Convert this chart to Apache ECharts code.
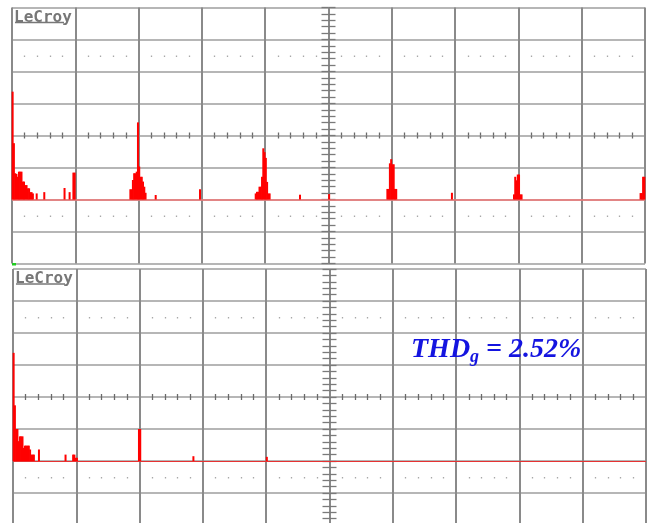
<!DOCTYPE html>
<html>
<head>
<meta charset="utf-8">
<title>LeCroy spectrum</title>
<script src="https://cdn.jsdelivr.net/npm/echarts@6/dist/echarts.min.js"></script>
<style>
  html, body { margin: 0; padding: 0; background: #ffffff; }
  #chart { width: 652px; height: 523px; }
</style>
</head>
<body>
<div id="chart"></div>
<script>
// Horizontal scale: 10 divisions, 50 spectrum bins per division.
const X_MIN = 0;
const X_MAX = 500;
const X_DIV = 50;
// Vertical scale in divisions; trace baseline sits at 0.
const Y_MIN = -2;
const Y_MAX = 6;
const Y_DIV = 1;

// Upper screen: spectrum before filtering (bin index, level in divisions)
const topBins = [
  0, 1, 2, 3, 4, 5, 6, 7, 8, 9, 10, 11, 12, 13, 14, 15, 16, 19, 25, 41, 45, 48, 49,
  93, 94, 95, 96, 97, 98, 99, 100, 101, 102, 103, 104, 105, 113, 148,
  192, 193, 194, 195, 196, 197, 198, 199, 200, 201, 202, 203, 227, 250,
  296, 297, 298, 299, 300, 301, 302, 303, 347,
  396, 397, 398, 399, 400, 401, 402,
  496, 497, 498, 499
];
const topLevels = [
  3.37, 1.76, 0.82, 0.80, 0.71, 0.87, 0.87, 0.87, 0.56, 0.56, 0.45, 0.45, 0.35, 0.35, 0.23, 0.23, 0.19, 0.19, 0.23, 0.36, 0.23, 0.84, 0.84,
  0.32, 0.32, 0.61, 0.82, 0.82, 0.87, 2.41, 1.03, 0.71, 0.71, 0.56, 0.40, 0.21, 0.14, 0.32,
  0.19, 0.24, 0.24, 0.40, 0.40, 0.71, 1.60, 1.48, 1.30, 0.55, 0.19, 0.19, 0.15, 0.17,
  0.33, 0.33, 1.13, 1.26, 1.10, 1.10, 0.33, 0.33, 0.21,
  0.16, 0.71, 0.60, 0.78, 0.78, 0.16, 0.16,
  0.20, 0.20, 0.71, 0.71
];

// Lower screen: spectrum after filtering
const bottomBins = [
  0, 1, 2, 3, 4, 5, 6, 7, 8, 9, 10, 11, 12, 13, 14, 15, 16, 20, 41, 47, 48, 49, 50,
  99, 100, 142, 200
];
const bottomLevels = [
  3.38, 1.74, 1.00, 1.00, 0.62, 0.77, 0.77, 0.77, 0.41, 0.48, 0.48, 0.48, 0.48, 0.36, 0.20, 0.20, 0.20, 0.36, 0.20, 0.20, 0.20, 0.10, 0.10,
  1.00, 1.00, 0.15, 0.13
];

const thdLabel = ['THD', 'g', ' = 2.52%'];

const screens = [
  { left: 12, top: 7.5, width: 633, height: 256, bins: topBins, levels: topLevels, base: '#f07474', baseWidth: 1.6 },
  { left: 13, top: 269, width: 633, height: 256, bins: bottomBins, levels: bottomLevels, base: '#e63232', baseWidth: 1.2 }
];

const grid = [];
const xAxis = [];
const yAxis = [];
const series = [];

const hidden = { show: false };

screens.forEach(function (s, g) {
  grid.push({ left: s.left, top: s.top, width: s.width, height: s.height, containLabel: false, outerBoundsMode: 'none' });
  const pxPerDiv = s.height / (Y_MAX - Y_MIN);
  const rowOffset = function (v) { return -(v - Y_MIN) * pxPerDiv; };
  const xBase = {
    gridIndex: g, type: 'value', min: X_MIN, max: X_MAX, interval: X_DIV, position: 'bottom',
    axisLine: { show: false, onZero: false }, axisLabel: hidden, splitLine: hidden, axisTick: { show: false }
  };
  // graticule verticals
  xAxis.push(Object.assign({}, xBase, {
    splitLine: { show: true, lineStyle: { color: '#8a8a8a', width: 2 } }
  }));
  // centre horizontal: sub-division ticks above and below
  [true, false].forEach(function (inside) {
    xAxis.push(Object.assign({}, xBase, {
      offset: rowOffset((Y_MIN + Y_MAX) / 2),
      axisTick: { show: false, inside: inside },
      minorTick: { show: true, splitNumber: 5, length: 3, lineStyle: { color: '#6a6a6a', width: 1.3 } }
    }));
  });
  // dotted rows
  [4.5, -0.5].forEach(function (v) {
    xAxis.push(Object.assign({}, xBase, {
      offset: rowOffset(v),
      axisTick: { show: false, inside: false },
      minorTick: { show: true, splitNumber: 5, length: 1.5, lineStyle: { color: '#a8a8a8', width: 1.3 } }
    }));
  });

  const yBase = {
    gridIndex: g, type: 'value', min: Y_MIN, max: Y_MAX, interval: Y_DIV, position: 'left',
    axisLine: { show: false, onZero: false }, axisLabel: hidden, splitLine: hidden, axisTick: { show: false }
  };
  // graticule horizontals
  yAxis.push(Object.assign({}, yBase, {
    splitLine: { show: true, lineStyle: { color: '#b6b6b6', width: 2 } }
  }));
  // centre vertical: sub-division ticks left and right
  [false, true].forEach(function (inside) {
    yAxis.push(Object.assign({}, yBase, {
      offset: -s.width / 2,
      axisTick: { show: true, inside: inside, length: 7, lineStyle: { color: '#7a7a7a', width: 1.3 } },
      minorTick: { show: true, splitNumber: 5, length: 7, lineStyle: { color: '#7a7a7a', width: 1.3 } }
    }));
  });

  series.push({
    type: 'bar',
    xAxisIndex: g * 5,
    yAxisIndex: g * 3,
    barWidth: 2,
    itemStyle: { color: '#ff0000' },
    data: s.bins.map(function (b, i) { return [b + 0.5, s.levels[i]]; }),
    markLine: {
      silent: true,
      symbol: 'none',
      label: { show: false },
      lineStyle: { color: s.base, width: s.baseWidth, type: 'solid' },
      data: [{ yAxis: 0 }]
    },
    z: 5
  });
});

function logo(x, y) {
  return [
    { type: 'text', left: x, top: y, z: 10,
      style: { text: 'LeCroy', fill: '#777777', font: 'bold 16px "DejaVu Sans Mono"' } },
    { type: 'line', z: 10,
      shape: { x1: x + 1, y1: y + 13, x2: x + 50, y2: y + 13 },
      style: { stroke: '#777777', lineWidth: 1.6 } }
  ];
}

const thdFont = { fontFamily: '"Liberation Serif", "Times New Roman", serif', fontStyle: 'italic', fontWeight: 'bold', fill: '#1414e0' };

const graphic = [].concat(
  logo(14, 9.5),
  logo(15, 271),
  [
    { type: 'rect', z: 10, shape: { x: 12, y: 263, width: 4, height: 2.5 }, style: { fill: '#22cc22' } },
    { type: 'text', left: 411, top: 336, z: 10,
      style: {
        text: '{m|' + thdLabel[0] + '}{s|' + thdLabel[1] + '}{m|' + thdLabel[2] + '}',
        rich: {
          m: Object.assign({ fontSize: 28, lineHeight: 32 }, thdFont),
          s: Object.assign({ fontSize: 18, lineHeight: 14, verticalAlign: 'bottom' }, thdFont)
        }
      }
    }
  ]
);

const chart = echarts.init(document.getElementById('chart'), null, { renderer: 'canvas' });
chart.setOption({
  animation: false,
  backgroundColor: '#ffffff',
  grid: grid,
  xAxis: xAxis,
  yAxis: yAxis,
  series: series,
  graphic: graphic
});
</script>
</body>
</html>
